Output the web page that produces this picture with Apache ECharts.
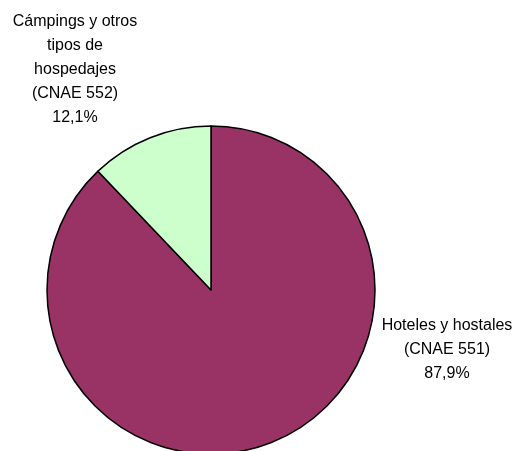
<!DOCTYPE html>
<html>
<head>
<meta charset="utf-8">
<script src="https://cdn.jsdelivr.net/npm/echarts@6/dist/echarts.min.js"></script>
<style>
  html, body { margin: 0; padding: 0; background: #fff; }
  #chart { width: 523px; height: 451px; }
</style>
</head>
<body>
<div id="chart"></div>
<script>
const categories = ['Hoteles y hostales\n(CNAE 551)', 'Cámpings y otros\ntipos de\nhospedajes\n(CNAE 552)'];
const shares = [87.9, 12.1];
const sliceColors = ['#993366', '#CCFFCC'];

// where each label block sits (centre of the text block)
const labelSpots = [
  { x: 447, y: 350 },
  { x: 75, y: 70 },
];

const chart = echarts.init(document.getElementById('chart'));
chart.setOption({
  animation: false,
  series: [
    {
      type: 'pie',
      center: [211, 290],
      radius: 164,
      startAngle: 90,
      clockwise: true,
      data: categories.map((name, i) => ({
        name,
        value: shares[i],
        itemStyle: { color: sliceColors[i] },
      })),
      itemStyle: {
        borderColor: '#000',
        borderWidth: 1.5,
      },
      label: {
        show: true,
        position: 'outside',
        formatter(params) {
          return `${params.name}\n${params.value.toFixed(1).replace('.', ',')}%`;
        },
        fontFamily: 'Liberation Sans, Arial, sans-serif',
        fontSize: 16,
        lineHeight: 24,
        color: '#000',
        align: 'center',
        overflow: 'none',
        width: 200,
      },
      labelLine: { show: false },
      labelLayout(params) {
        const spot = labelSpots[params.dataIndex];
        return {
          x: spot.x,
          y: spot.y,
          align: 'center',
          verticalAlign: 'middle',
        };
      },
      emphasis: { disabled: true },
    },
  ],
});
</script>
</body>
</html>
